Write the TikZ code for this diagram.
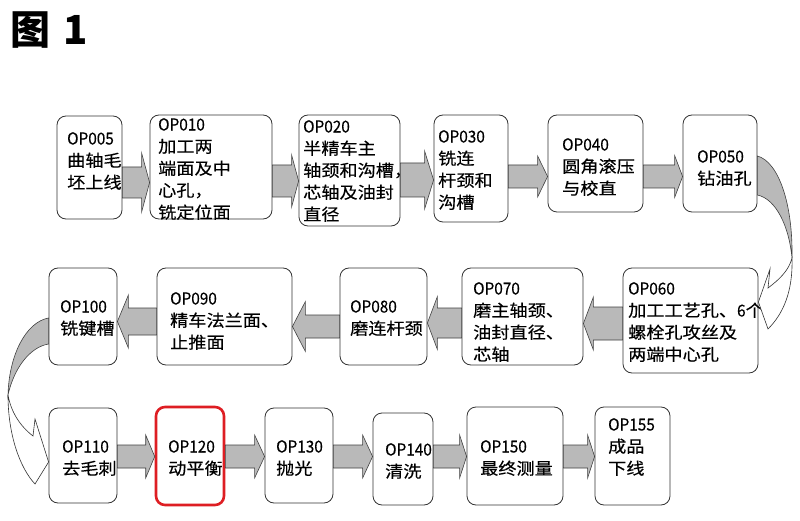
\documentclass[tikz,border=0pt]{standalone}
\usepackage{fontspec}
\newfontfamily\cjk[FakeStretch=1.1,FakeBold=0.35]{Noto Sans CJK SC}
\newfontfamily\opf[FakeStretch=0.93,FakeBold=0.2]{Noto Sans CJK SC}
\newfontfamily\cjkt{Noto Sans CJK SC}
\usetikzlibrary{fit,calc}
\definecolor{arrgray}{RGB}{185,185,185}
\definecolor{boxred}{RGB}{222,30,35}
\newcommand\op[1]{{\opf #1}}
\tikzset{
  box/.style={draw=black!80, rounded corners=9pt, line width=0.8pt, inner sep=0pt},
  redbox/.style={draw=boxred, rounded corners=9pt, line width=2.6pt, inner sep=0pt},
  arr/.style={fill=arrgray, draw=black!75, line width=0.6pt},
  back/.style={fill=white, draw=black!80, line width=0.6pt},
  txt/.style={font=\cjk\fontsize{16.5}{22}\selectfont, align=left, inner sep=0pt, anchor=north west},
}
% rightward block arrow: from, to, y(px), shaft half, head half, head length
\newcommand\barR[6]{\draw[arr] let \p1=(#1.east), \p2=(#2.west), \p3=(0,#3) in
  ({\x1},{\y3+#4pt}) -- ({\x2-#6pt},{\y3+#4pt}) -- ({\x2-#6pt},{\y3+#5pt}) -- ({\x2},{\y3})
  -- ({\x2-#6pt},{\y3-#5pt}) -- ({\x2-#6pt},{\y3-#4pt}) -- ({\x1},{\y3-#4pt}) -- cycle;}
% leftward block arrow
\newcommand\barL[6]{\draw[arr] let \p1=(#1.west), \p2=(#2.east), \p3=(0,#3) in
  ({\x1},{\y3+#4pt}) -- ({\x2+#6pt},{\y3+#4pt}) -- ({\x2+#6pt},{\y3+#5pt}) -- ({\x2},{\y3})
  -- ({\x2+#6pt},{\y3-#5pt}) -- ({\x2+#6pt},{\y3-#4pt}) -- ({\x1},{\y3-#4pt}) -- cycle;}
\newcommand\opbox[6][box]{\node[#1, fit={(#3,#4) (#5,#6)}] (#2) {};}
\begin{document}
\begin{tikzpicture}[x=1pt,y=-1pt]
\useasboundingbox (0,0) rectangle (800,521);
% title
\node[font=\cjkt\bfseries\fontsize{40}{44}\selectfont, anchor=west, inner sep=0pt] (title) at (10,30) {图\hspace{13pt}1};
% boxes
\opbox{op005}{57}{116}{122}{219}
\opbox{op010}{150}{115}{272}{219}
\opbox{op020}{299}{115}{400}{226}
\opbox{op030}{434}{115}{508}{222}
\opbox{op040}{548}{115}{643}{212}
\opbox{op050}{683}{115}{757}{212}
\opbox{op060}{623}{268}{758}{373}
\opbox{op070}{462}{268}{583}{365}
\opbox{op080}{340}{268}{427}{365}
\opbox{op090}{157}{268}{292}{365}
\opbox{op100}{49}{268}{117}{365}
\opbox{op110}{49}{408}{117}{503}
\opbox[redbox]{op120}{156}{407}{224}{505}
\opbox{op130}{265}{408}{333}{503}
\opbox{op140}{373}{413}{433}{505}
\opbox{op150}{467}{407}{563}{505}
\opbox{op155}{595}{407}{670}{505}
% texts
\node[txt] (t005) at (67,132) {\op{OP005}\\曲轴毛\\坯上线};
\node[txt] (t010) at (158,118) {\op{OP010}\\加工两\\端面及中\\心孔，\\铣定位面};
\node[txt] (t020) at (303,120) {\op{OP020}\\半精车主\\轴颈和沟槽，\\芯轴及油封\\直径};
\node[txt] (t030) at (438,130) {\op{OP030}\\铣连\\杆颈和\\沟槽};
\node[txt] (t040) at (562,138) {\op{OP040}\\圆角滚压\\与校直};
\node[txt] (t050) at (697,150) {\op{OP050}\\钻油孔};
\node[txt] (t060) at (628,282) {\op{OP060}\\加工工艺孔、\op{6}个\\螺栓孔攻丝及\\两端中心孔};
\node[txt] (t070) at (473,282) {\op{OP070}\\磨主轴颈、\\油封直径、\\芯轴};
\node[txt] (t080) at (350,300) {\op{OP080}\\磨连杆颈};
\node[txt] (t090) at (170,292) {\op{OP090}\\精车法兰面、\\止推面};
\node[txt] (t100) at (60,300) {\op{OP100}\\铣键槽};
\node[txt] (t110) at (62,440) {\op{OP110}\\去毛刺};
\node[txt] (t120) at (168,440) {\op{OP120}\\动平衡};
\node[txt] (t130) at (276,440) {\op{OP130}\\抛光};
\node[txt] (t140) at (385,443) {\op{OP140}\\清洗};
\node[txt] (t150) at (480,440) {\op{OP150}\\最终测量};
\node[txt] (t155) at (608,418) {\op{OP155}\\成品\\下线};
% row 1 arrows
\barR{op005}{op010}{182.5}{15.5}{29.5}{8}
\barR{op010}{op020}{181}{16}{26}{7}
\barR{op020}{op030}{180}{17}{29}{9}
\barR{op030}{op040}{176.5}{11.5}{20.5}{10}
\barR{op040}{op050}{176.5}{11.5}{21}{8}
% row 2 arrows
\barL{op060}{op070}{323.5}{16.5}{26.5}{10}
\barL{op070}{op080}{323}{15}{26.5}{10}
\barL{op080}{op090}{326.5}{11.5}{25}{13}
\barL{op090}{op100}{321.5}{13.5}{26.5}{11}
% row 3 arrows
\barR{op110}{op120}{456.5}{11.5}{21.5}{9}
\barR{op120}{op130}{456.5}{11.5}{21.5}{10}
\barR{op130}{op140}{456.5}{11.5}{21.5}{10}
\barR{op140}{op150}{456.5}{11.5}{21.5}{7}
\barR{op150}{op155}{456.5}{11.5}{21.5}{7}
% right curved arrow (op050 -> op060)
\coordinate (ra) at ([yshift=7.5pt]op050.east);
\coordinate (rb) at ([yshift=-31.5pt]op050.east);
\coordinate (rtip) at ([yshift=18.5pt]op060.east);
\draw[back] (792,258) .. controls (793,292) and (783,314) .. (768,329) -- (rtip) -- (770,269) -- (768,288)
  .. controls (780,279) and (789,270) .. (792,258) -- cycle;
\draw[arr] (ra) .. controls (779,162) and (793,205) .. (792,258)
  .. controls (789,226) and (776,199) .. (rb) -- cycle;
% left curved arrow (op100 -> op110)
\coordinate (la) at ([yshift=-1.5pt]op100.west);
\coordinate (lb) at ([yshift=-27.5pt]op100.west);
\coordinate (ltip) at ([yshift=-6.5pt]op110.west);
\draw[back] (8,395) .. controls (8,435) and (20,468) .. (35,484) -- (ltip) -- (35,419) -- (33,436)
  .. controls (20,426) and (11,412) .. (8,395) -- cycle;
\draw[arr] (la) .. controls (26,322) and (9,355) .. (8,395)
  .. controls (14,368) and (30,347) .. (lb) -- cycle;
\end{tikzpicture}
\end{document}
